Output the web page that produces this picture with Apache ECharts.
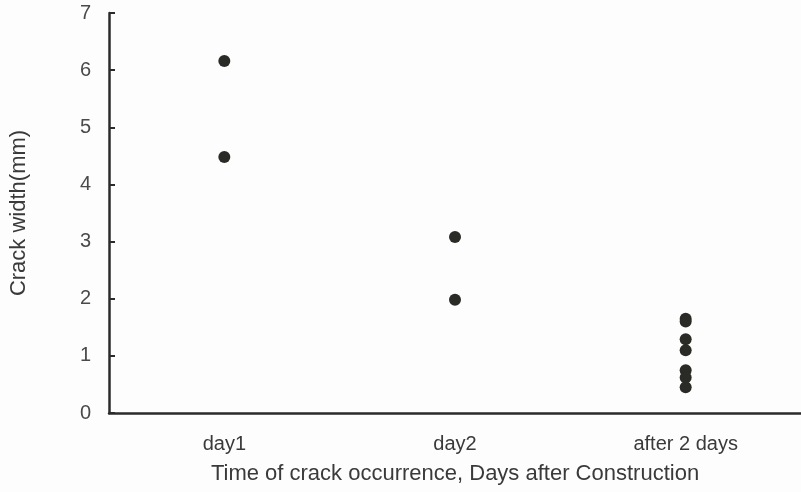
<!DOCTYPE html>
<html>
<head>
<meta charset="utf-8">
<script src="https://cdn.jsdelivr.net/npm/echarts@6/dist/echarts.min.js"></script>
<style>
  html, body { margin: 0; padding: 0; background: #fdfdfd; }
  #chart { width: 801px; height: 492px; }
</style>
</head>
<body>
<div id="chart"></div>
<script>
// Time of crack occurrence categories
const categories = ['day1', 'day2', 'after 2 days'];
// Observed crack widths (mm) per category
const day1Widths = [6.16, 4.48];
const day2Widths = [3.08, 1.98];
const laterWidths = [1.65, 1.60, 1.29, 1.10, 0.75, 0.62, 0.45];
const yTicks = [0, 1, 2, 3, 4, 5, 6, 7];

const groups = [day1Widths, day2Widths, laterWidths];
const points = [];
groups.forEach((vals, i) => vals.forEach(v => points.push([categories[i], v])));

const chart = echarts.init(document.getElementById('chart'));
const font = 'Liberation Sans, Arial, sans-serif';
const ink = '#2b2b2b';

chart.setOption({
  backgroundColor: '#fdfdfd',
  animation: false,
  grid: { left: 108, right: -4, top: 13, bottom: 79 },
  xAxis: {
    type: 'category',
    data: categories,
    boundaryGap: true,
    name: 'Time of crack occurrence, Days after Construction',
    nameLocation: 'middle',
    nameGap: 50,
    nameTextStyle: { fontFamily: font, fontSize: 22, color: '#3a3a3a' },
    axisLine: { lineStyle: { color: ink, width: 2.5 } },
    axisTick: { inside: true, length: 6, lineStyle: { color: ink, width: 2 } },
    axisLabel: { fontFamily: font, fontSize: 20, color: '#3a3a3a', margin: 21 },
    splitLine: { show: false }
  },
  yAxis: {
    type: 'value',
    min: yTicks[0],
    max: yTicks[yTicks.length - 1],
    interval: 1,
    name: 'Crack width(mm)',
    nameLocation: 'middle',
    nameGap: 79,
    nameTextStyle: { fontFamily: font, fontSize: 22, color: '#3a3a3a' },
    axisLine: { show: true, lineStyle: { color: ink, width: 2.5 } },
    axisTick: { show: true, inside: true, length: 6, lineStyle: { color: ink, width: 2 } },
    axisLabel: { fontFamily: font, fontSize: 20, color: '#4a4a4a', margin: 18 },
    splitLine: { show: false }
  },
  series: [{
    type: 'scatter',
    data: points,
    symbol: 'circle',
    symbolSize: 12,
    itemStyle: { color: '#2a2a26', opacity: 1 }
  }]
});
</script>
</body>
</html>
